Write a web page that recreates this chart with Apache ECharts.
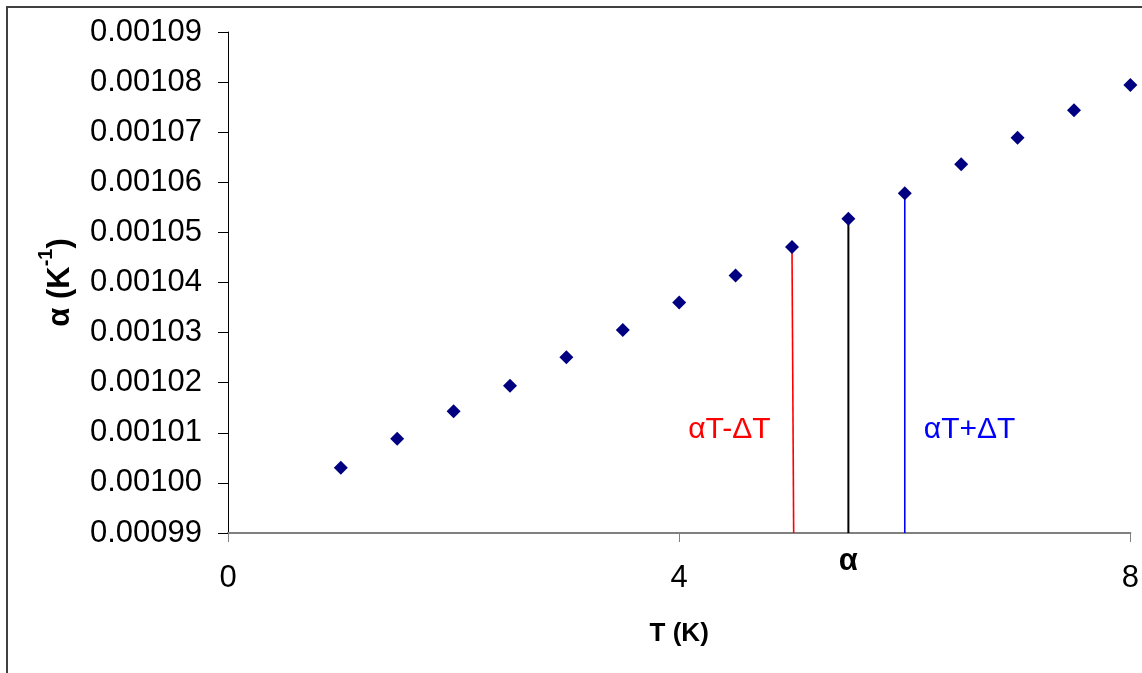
<!DOCTYPE html>
<html>
<head>
<meta charset="utf-8">
<script src="https://cdn.jsdelivr.net/npm/echarts@6/dist/echarts.min.js"></script>
<style>
html,body{margin:0;padding:0;background:#fff;}
#chart{width:1142px;height:673px;}
</style>
</head>
<body>
<div id="chart"></div>
<script>
// ---- data ----
var temperatures = [1, 1.5, 2, 2.5, 3, 3.5, 4, 4.5, 5, 5.5, 6, 6.5, 7, 7.5, 8];
var alphaValues = [0.0010030, 0.0010088, 0.0010143, 0.0010194, 0.0010251, 0.0010305, 0.0010360,
                   0.0010414, 0.0010471, 0.0010527, 0.0010578, 0.0010636, 0.0010689, 0.0010744, 0.0010794];
var xTicks = [0, 4, 8];
var yMin = 0.00099, yMax = 0.00109, yStep = 0.00001;
// vertical markers: [x at bottom, x at top (data point)]
var markerLow = [5.015, 5];     // alphaT - deltaT
var markerMid = [5.5, 5.5];     // alpha
var markerHigh = [6, 6];        // alphaT + deltaT
var labelLow = 'αT-ΔT', labelHigh = 'αT+ΔT', labelMid = 'α';

function valueAt(t) {
  return alphaValues[temperatures.indexOf(t)];
}

var chart = echarts.init(document.getElementById('chart'), null, {renderer: 'canvas'});
var FONT = 'Liberation Sans, Arial, sans-serif';

function vline(m, color, width) {
  return {
    type: 'line', data: [[m[0], yMin], [m[1], valueAt(m[1])]],
    symbol: 'none', silent: true, z: 1,
    lineStyle: {color: color, width: width}, clip: false
  };
}

var option = {
  animation: false,
  backgroundColor: '#fff',
  graphic: [{
    type: 'rect', shape: {x: 7, y: 7, width: 1200, height: 800},
    style: {fill: 'none', stroke: '#404040', lineWidth: 2}, silent: true
  }],
  grid: {left: 228, right: 7, top: 32, bottom: 140, containLabel: false},
  xAxis: {
    type: 'value', min: xTicks[0], max: xTicks[xTicks.length - 1], interval: xTicks[1] - xTicks[0],
    name: 'T (K)', nameLocation: 'middle', nameGap: 88,
    nameTextStyle: {fontFamily: FONT, fontSize: 26, fontWeight: 'bold', color: '#000'},
    axisLine: {show: true, onZero: false, lineStyle: {color: '#808080', width: 2}},
    axisTick: {show: true, length: 9, lineStyle: {color: '#808080', width: 1}},
    axisLabel: {fontFamily: FONT, fontSize: 31, color: '#000', margin: 30},
    splitLine: {show: false}
  },
  yAxis: {
    type: 'value', min: yMin, max: yMax, interval: yStep,
    name: '{a|α (K}{s|-1}{a|)}', nameLocation: 'middle', nameGap: 152, nameRotate: 90,
    nameTextStyle: {
      rich: {
        a: {fontFamily: FONT, fontSize: 31, fontWeight: 'bold', color: '#000', lineHeight: 40, verticalAlign: 'bottom'},
        s: {fontFamily: FONT, fontSize: 20, fontWeight: 'bold', color: '#000', lineHeight: 40, verticalAlign: 'top'}
      }
    },
    axisLine: {show: true, lineStyle: {color: '#000', width: 1}},
    axisTick: {show: true, length: 10, lineStyle: {color: '#000', width: 1}},
    axisLabel: {fontFamily: FONT, fontSize: 31, color: '#000', margin: 26,
      formatter: function (v) { return v.toFixed(5); }},
    splitLine: {show: false}
  },
  series: [
    vline(markerLow, '#ff0000', 1.6),
    vline(markerMid, '#000000', 2),
    vline(markerHigh, '#0000ff', 1.6),
    {
      type: 'scatter', symbol: 'diamond', symbolSize: 14, z: 3,
      itemStyle: {color: '#000080', opacity: 1},
      data: temperatures.map(function (t, i) { return [t, alphaValues[i]]; })
    },
    {
      type: 'scatter', symbol: 'circle', symbolSize: 1, silent: true, z: 4,
      itemStyle: {color: 'rgba(0,0,0,0)', opacity: 1},
      data: [
        {value: [4.445, 0.0010106], label: {show: true, formatter: labelLow, color: '#ff0000', position: 'inside', fontSize: 30}},
        {value: [6.575, 0.0010106], label: {show: true, formatter: labelHigh, color: '#0000ff', position: 'inside', fontSize: 30}},
        {value: [markerMid[0], yMin], label: {show: true, formatter: labelMid, color: '#000', position: 'bottom',
          distance: 12, fontSize: 31, fontWeight: 'bold'}}
      ],
      label: {fontFamily: FONT}
    }
  ]
};
chart.setOption(option);
</script>
</body>
</html>
